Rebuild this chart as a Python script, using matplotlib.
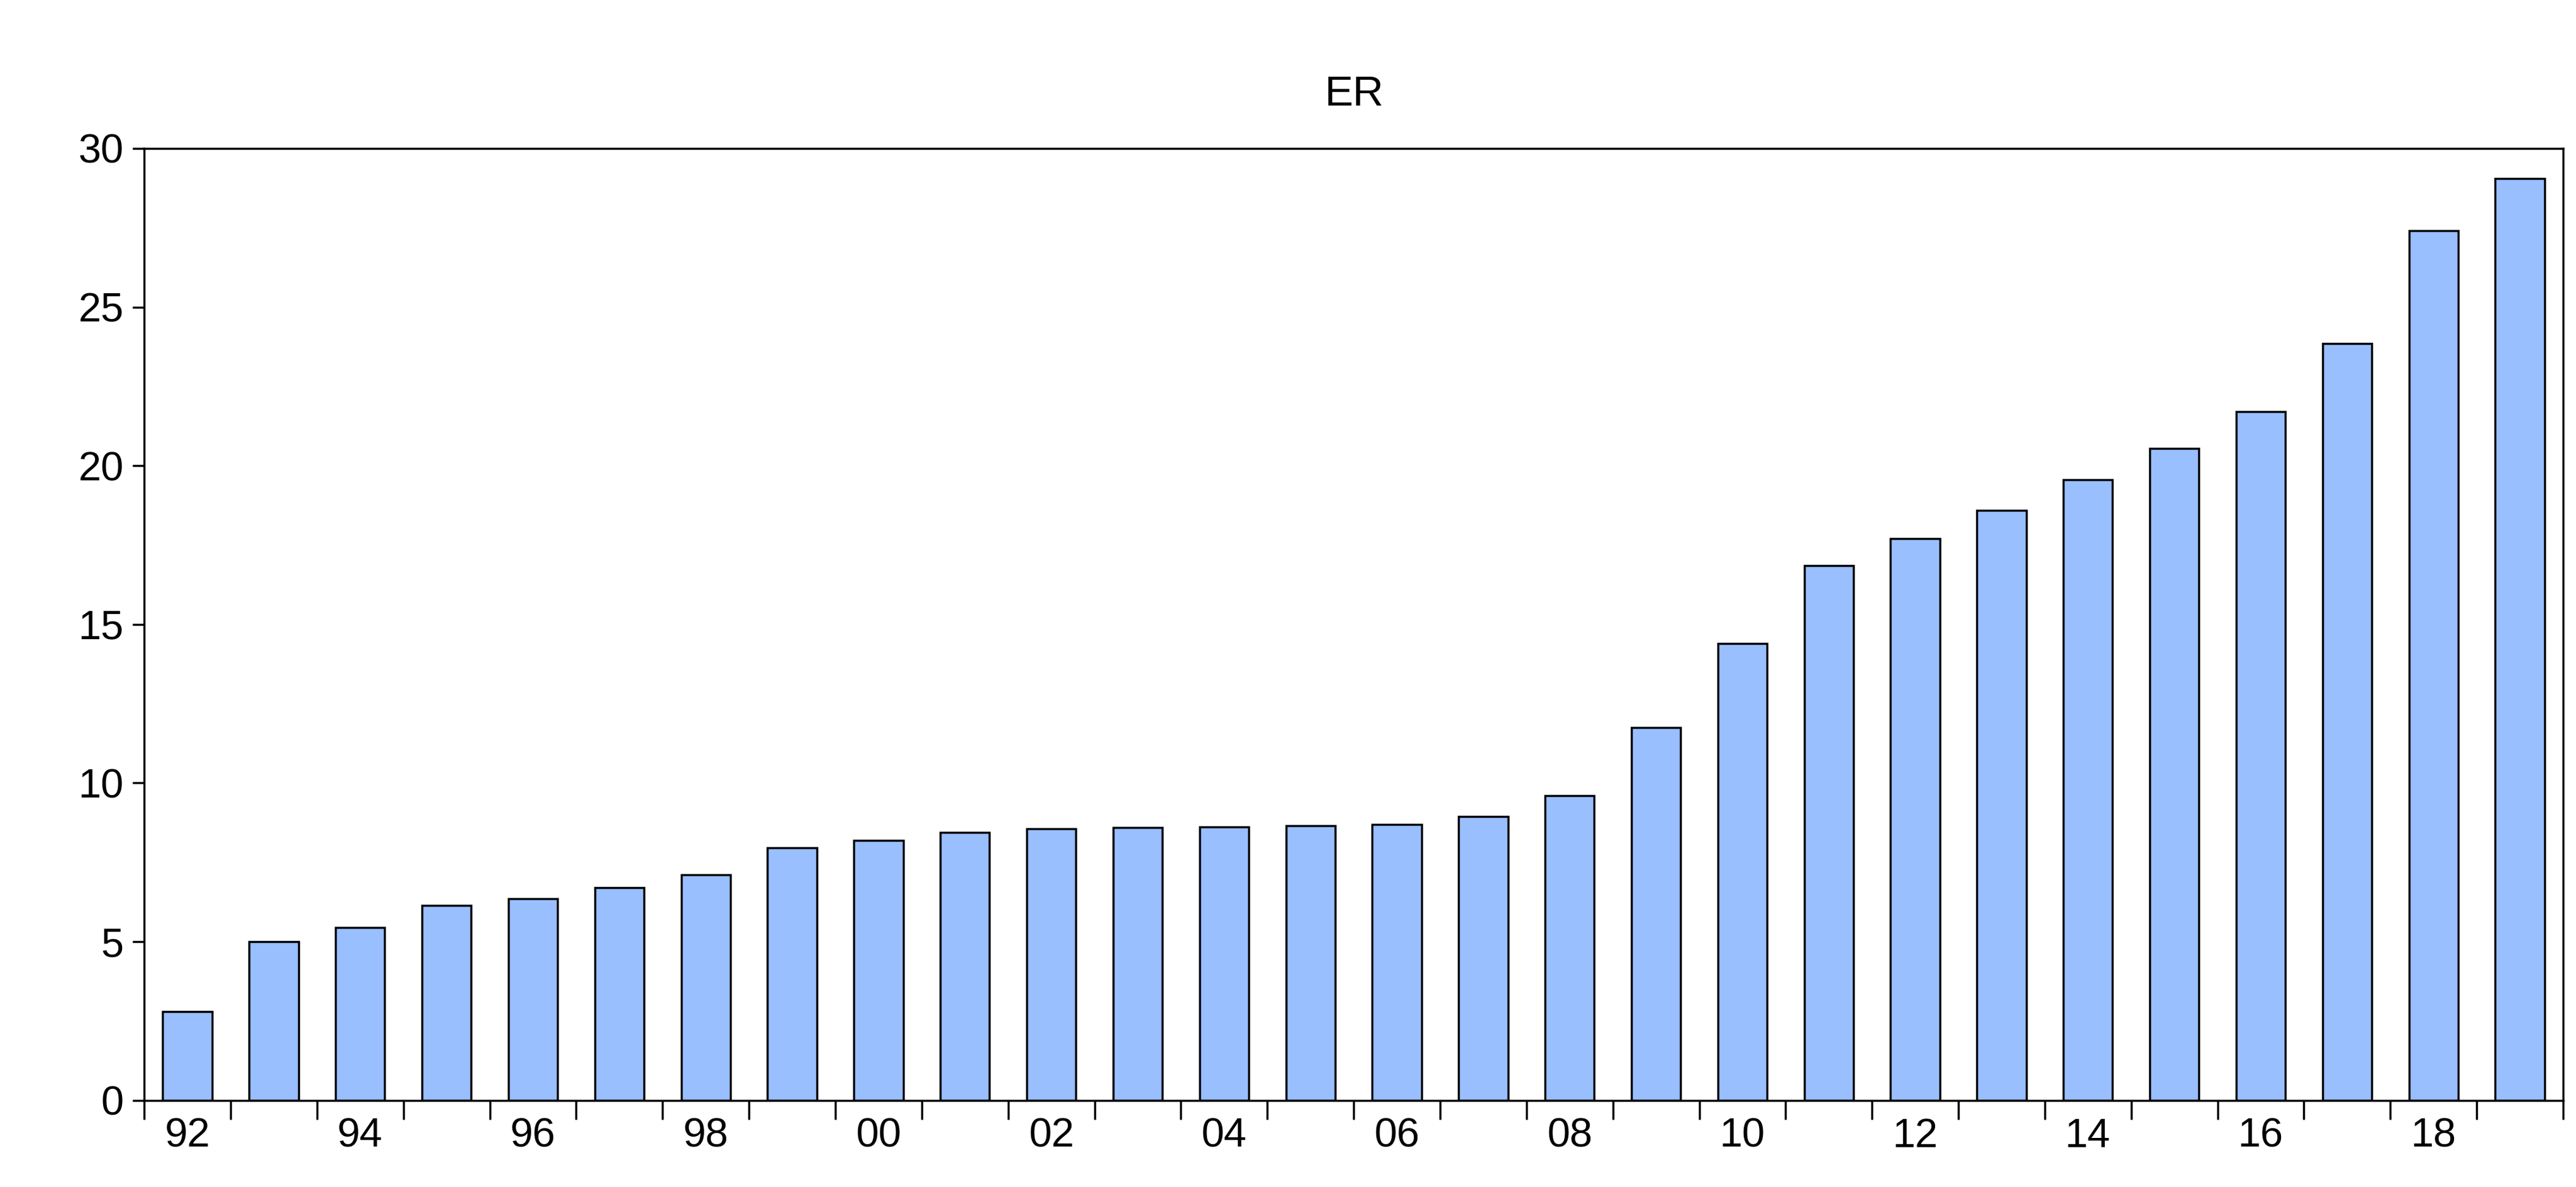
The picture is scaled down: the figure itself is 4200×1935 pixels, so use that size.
import matplotlib
matplotlib.use("Agg")
import matplotlib.pyplot as plt
import numpy as np

plt.rcParams['font.family'] = ['Liberation Sans', 'DejaVu Sans']

years = ['92','93','94','95','96','97','98','99','00','01','02','03','04','05',
         '06','07','08','09','10','11','12','13','14','15','16','17','18','19']
values = [2.8, 5.0, 5.45, 6.15, 6.35, 6.7, 7.1, 7.95, 8.2, 8.45, 8.55, 8.6, 8.62, 8.65,
          8.7, 8.95, 9.6, 11.75, 14.4, 16.85, 17.7, 18.6, 19.55, 20.55, 21.7, 23.85, 27.4, 29.05]

fig = plt.figure(figsize=(42, 19.35), dpi=100)
ax = fig.add_axes([0.056, 0.073, 0.939, 0.802])
x = np.arange(len(years))
ax.bar(x, values, width=0.57, color='#99BFFF', edgecolor='black', linewidth=2.5)
ax.set_xlim(-0.5, len(years) - 0.5)
ax.set_ylim(0, 30)
ax.set_yticks([0, 5, 10, 15, 20, 25, 30])
ax.tick_params(axis='y', labelsize=48, length=14, width=2.5, pad=10)
ax.set_xticks(np.arange(-0.5, len(years)), minor=False)
ax.set_xticklabels([])
ax.set_xticks(x[::2], minor=True)
ax.set_xticklabels(years[::2], minor=True)
ax.tick_params(axis='x', which='major', length=22, width=2.5)
ax.tick_params(axis='x', which='minor', length=0, labelsize=48, pad=20)
for s in ax.spines.values():
    s.set_linewidth(2.5)
ax.set_title('ER', fontsize=50, pad=50)
fig.savefig('out.png', dpi=100)
